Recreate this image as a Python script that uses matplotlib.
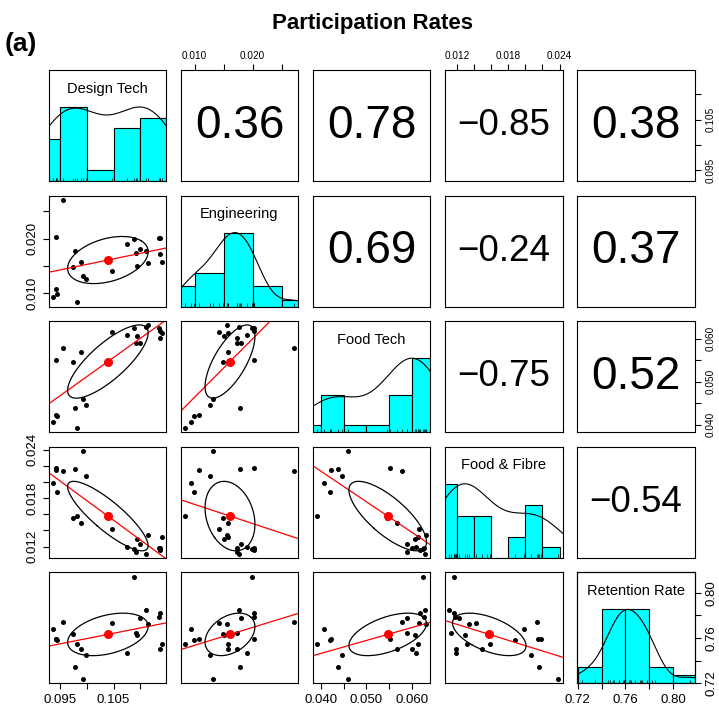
import numpy as np
import matplotlib
matplotlib.use('Agg')
import matplotlib.pyplot as plt

plt.rcParams['font.family'] = ['Liberation Sans', 'DejaVu Sans']

names = ['Design Tech', 'Engineering', 'Food Tech', 'Food & Fibre', 'Retention Rate']

# one value per school
design_tech = [0.09366, 0.09422, 0.09434, 0.09447, 0.09559, 0.09747, 0.09772, 0.09822,
               0.09884, 0.09934, 0.09991, 0.10466, 0.10759, 0.10872, 0.10916, 0.10928,
               0.10997, 0.11103, 0.11141, 0.11347, 0.11366, 0.11372, 0.11397]
engineering = [0.00942, 0.02023, 0.01076, 0.00979, 0.02710, 0.01489, 0.01780, 0.00833,
               0.01574, 0.01319, 0.01258, 0.01416, 0.01908, 0.01993, 0.01732, 0.01507,
               0.01805, 0.01768, 0.01550, 0.02017, 0.01726, 0.02017, 0.01568]
food_tech = [0.04062, 0.05512, 0.04225, 0.04194, 0.05783, 0.05450, 0.04388, 0.03922,
             0.05682, 0.04605, 0.04465, 0.06147, 0.06085, 0.06240, 0.05899, 0.06062,
             0.05891, 0.06279, 0.06310, 0.06256, 0.06005, 0.06178, 0.06124]
food_fibre = [0.01988, 0.02177, 0.02148, 0.01876, 0.02140, 0.01550, 0.02161, 0.01583,
              0.01489, 0.02384, 0.02070, 0.01419, 0.01192, 0.01167, 0.01130, 0.01291,
              0.01229, 0.01113, 0.01340, 0.01179, 0.01188, 0.01163, 0.01320]
retention = [0.76805, 0.75917, 0.75888, 0.75799, 0.77426, 0.76361, 0.73432, 0.75473,
             0.75000, 0.72337, 0.74527, 0.77337, 0.74675, 0.81450, 0.76480, 0.76272,
             0.77811, 0.78491, 0.77249, 0.77840, 0.75059, 0.78225, 0.75444]
columns = [design_tech, engineering, food_tech, food_fibre, retention]

# correlations as printed in the upper panels (row, col)
cor_values = {(0, 1): 0.36, (0, 2): 0.78, (0, 3): -0.85, (0, 4): 0.38,
              (1, 2): 0.69, (1, 3): -0.24, (1, 4): 0.37,
              (2, 3): -0.75, (2, 4): 0.52,
              (3, 4): -0.54}

hist_step = [0.005, 0.005, 0.005, 0.002, 0.02]

axis_ticks = [[0.095, 0.100, 0.105, 0.110],
              [0.010, 0.015, 0.020, 0.025],
              [0.040, 0.045, 0.050, 0.055, 0.060],
              [0.012, 0.014, 0.016, 0.018, 0.020, 0.022, 0.024],
              [0.72, 0.74, 0.76, 0.78, 0.80]]
axis_labels = [['0.095', '', '0.105', ''],
               ['0.010', '', '0.020', ''],
               ['0.040', '', '0.050', '', '0.060'],
               ['0.012', '', '', '0.018', '', '', '0.024'],
               ['0.72', '', '0.76', '', '0.80']]

W, H = 719, 717
col_left = [48.5, 180.7, 312.9, 445.1, 577.3]
row_top = [70, 195.6, 321.2, 446.8, 572.4]
pw, ph = 117.5, 111


def ext(v):
    v = np.asarray(v)
    r = v.max() - v.min()
    return v.min() - 0.04 * r, v.max() + 0.04 * r


def r_density(x):
    x = np.asarray(x)
    q75, q25 = np.percentile(x, [75, 25])
    bw = 1.06 * min(np.std(x, ddof=1), (q75 - q25) / 1.34) * len(x) ** -0.2 * 1.2
    grid = np.linspace(x.min() - 3 * bw, x.max() + 3 * bw, 512)
    d = np.exp(-0.5 * ((grid[:, None] - x[None, :]) / bw) ** 2).sum(1)
    return grid, d / d.max()


def ellipse(x, y):
    x, y = np.asarray(x), np.asarray(y)
    r = np.corrcoef(x, y)[0, 1]
    ang = np.arange(52) * 2 * np.pi / 51
    th = np.sign(r) / np.sqrt(2)
    shape = np.diag([np.sqrt(1 + r), np.sqrt(1 - r)]) @ np.array([[th, th], [-th, th]])
    e = np.column_stack([np.cos(ang), np.sin(ang)]) @ shape
    return e[:, 0] * x.std(ddof=1) + x.mean(), e[:, 1] * y.std(ddof=1) + y.mean()


def put_axis(ax, side, var, size):
    if side in ('bottom', 'top'):
        ax.set_xticks(axis_ticks[var])
        ax.set_xticklabels(axis_labels[var])
        ax.xaxis.set_ticks_position(side)
        ax.tick_params(axis='x', labelsize=size, direction='out', length=4.5, width=0.8,
                       pad=2 if side == 'top' else 3,
                       labelbottom=(side == 'bottom'), labeltop=(side == 'top'),
                       bottom=(side == 'bottom'), top=(side == 'top'))
    else:
        ax.set_yticks(axis_ticks[var])
        ax.set_yticklabels(axis_labels[var], rotation=90, va='center')
        ax.yaxis.set_ticks_position(side)
        ax.tick_params(axis='y', labelsize=size, direction='out', length=4.5, width=0.8, pad=3,
                       labelleft=(side == 'left'), labelright=(side == 'right'),
                       left=(side == 'left'), right=(side == 'right'))


fig = plt.figure(figsize=(W / 100, H / 100), dpi=100)

for i in range(5):
    for j in range(5):
        ax = fig.add_axes([col_left[j] / W, 1 - (row_top[i] + ph) / H, pw / W, ph / H])
        for s in ax.spines.values():
            s.set_linewidth(0.8)
        ax.set_xticks([])
        ax.set_yticks([])
        ax.set_xlim(ext(columns[j]))
        yax = ax
        if i == j:
            x = np.asarray(columns[i])
            step = hist_step[i]
            lo = np.floor(x.min() / step + 1e-9) * step
            hi = np.ceil(x.max() / step - 1e-9) * step
            breaks = np.arange(lo, hi + step / 2, step)
            counts = [np.sum((x > a) & (x <= b)) + (k == 0) * np.sum(x == a)
                      for k, (a, b) in enumerate(zip(breaks[:-1], breaks[1:]))]
            counts = np.array(counts) / max(counts)
            ax.bar(breaks[:-1], counts, width=step, align='edge', color='cyan',
                   edgecolor='black', linewidth=0.8)
            gx, gy = r_density(x)
            ax.plot(gx, gy, color='black', lw=0.8)
            ax.vlines(x, 0, 0.045, color='black', lw=0.5)
            ax.set_ylim(0, 1.5)
            ax.text(0.5, 0.833, names[i], transform=ax.transAxes, ha='center', va='center',
                    fontsize=10.5)
            if j == 4:
                yax = ax.twinx()
                yax.set_ylim(ext(columns[i]))
                yax.set_xticks([])
                yax.set_yticks([])
                for s in yax.spines.values():
                    s.set_linewidth(0.8)
        elif i > j:
            x = np.asarray(columns[j])
            y = np.asarray(columns[i])
            ax.set_ylim(ext(columns[i]))
            ax.plot(x, y, 'o', color='black', ms=3.6, mew=0)
            b, a = np.polyfit(x, y, 1)
            xl = np.array(ext(columns[j]))
            ax.plot(xl, a + b * xl, color='red', lw=0.9)
            ex, ey = ellipse(x, y)
            ax.plot(ex, ey, color='black', lw=0.9)
            ax.plot(x.mean(), y.mean(), 'o', color='red', ms=6.5, mew=0)
        else:
            ax.set_ylim(ext(columns[i]))
            r = cor_values[(i, j)]
            txt = ('%.2f' % r).replace('-', '\u2212')
            ax.text(0.5, 0.5, txt, transform=ax.transAxes, ha='center', va='center',
                    fontsize=33 if r > 0 else 26.5)

        if i == 4 and j % 2 == 0:
            put_axis(ax, 'bottom', j, 9.5)
        if i == 0 and j % 2 == 1:
            put_axis(ax, 'top', j, 7.2)
        if j == 0 and i % 2 == 1:
            put_axis(yax, 'left', i, 9.5)
        if j == 4 and i % 2 == 0:
            put_axis(yax, 'right', i, 9.5 if i == 4 else 7.2)

fig.text(372 / W, 1 - 23 / H, 'Participation Rates', ha='center', va='center',
         fontsize=16, fontweight='bold')
fig.text(5 / W, 1 - 44 / H, '(a)', ha='left', va='center', fontsize=19, fontweight='bold')

plt.savefig('out.png', dpi=100)
plt.close()
